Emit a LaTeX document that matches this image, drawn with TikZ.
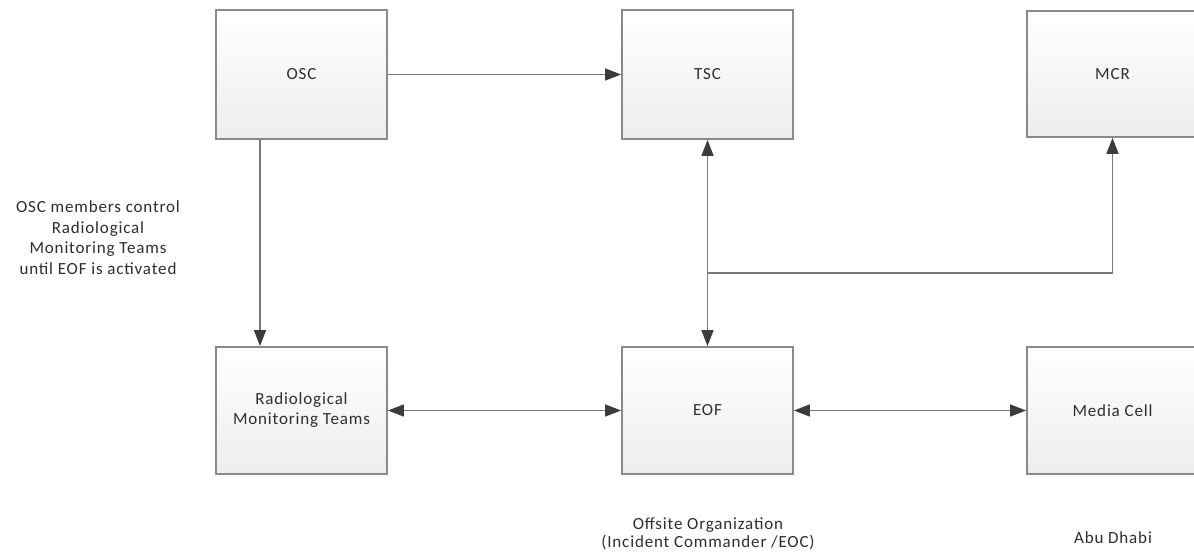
\documentclass[tikz,border=0pt]{standalone}
\usepackage{fontspec}
\setmainfont{Carlito}[LetterSpace=5]
\usetikzlibrary{arrows.meta,positioning,calc}
\definecolor{boxline}{HTML}{8A8A8A}
\definecolor{linkline}{HTML}{7A7A7A}
\definecolor{tipcol}{HTML}{3C3C3C}
\definecolor{txt}{HTML}{2E2E2E}
\tikzset{
  unitbox/.style={draw=boxline, line width=1.8pt, top color=white, bottom color=black!7,
    minimum width=171pt, minimum height=129pt, inner sep=0pt, align=center,
    text=txt, font=\fontsize{17}{20}\selectfont},
  tip/.tip={Triangle[length=16pt,width=12pt,color=tipcol,fill=tipcol]},
  link/.style={draw=linkline, line width=1.5pt, -tip},
  dlink/.style={draw=linkline, line width=1.5pt, tip-tip},
  note/.style={text=txt, align=center, font=\fontsize{17}{20.5}\selectfont}
}
\begin{document}
\begin{tikzpicture}[x=1pt,y=-1pt]
\useasboundingbox (0,0) rectangle (1194,556);
\fill[white] (0,0) rectangle (1194,556);
\begin{scope}
\clip (0,0) rectangle (1194,556);
% top row
\node[unitbox] (osc) at (301.5,74.5) {OSC};
\node[unitbox] (tsc) at (707.5,74.5) {TSC};
\node[unitbox, minimum height=126pt] (mcr) at (1112.5,74) {MCR};
% bottom row
\node[unitbox, minimum height=127pt] (rmt) at (301.5,410.5) {Radiological\\Monitoring Teams};
\node[unitbox, minimum height=127pt] (eof) at (707.5,410.5) {EOF};
\node[unitbox, minimum height=127pt] (media) at (1112.5,410.5) {Media Cell};
\end{scope}
% junction on the TSC--EOF line
\coordinate (junc) at (707.5,273);
% connectors
\draw[link] (osc.east) -- (tsc.west);
\draw[link] ([xshift=-41.5pt]osc.south) -- ([xshift=-41.5pt]rmt.north);
\draw[dlink] (tsc.south) -- (eof.north);
\draw[link] (junc) -| (mcr.south);
\draw[dlink] (rmt.east) -- (eof.west);
\draw[dlink] (eof.east) -- (media.west);
% notes
\node[note] (ctrl) at (98,237.5) {OSC members control\\Radiological\\Monitoring Teams\\until EOF is activated};
\node[note, font=\fontsize{17}{18.5}\selectfont] (offsite) at (708,534) {Offsite Organization\\(Incident Commander /EOC)};
\node[note] (abu) at (1113,538) {Abu Dhabi};
\end{tikzpicture}
\end{document}
